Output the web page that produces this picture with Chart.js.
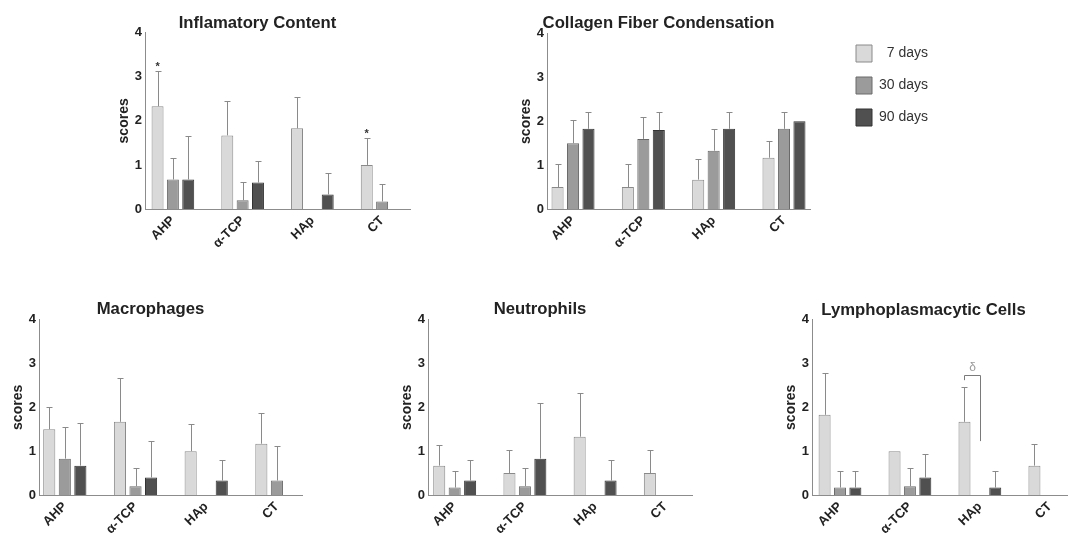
<!DOCTYPE html>
<html>
<head>
<meta charset="utf-8">
<script src="https://cdn.jsdelivr.net/npm/chart.js@4.4.1/dist/chart.umd.min.js"></script>
<style>
  html, body { margin: 0; padding: 0; background: #fff; }
  #page { position: relative; width: 1068px; height: 536px; overflow: hidden; }
  #page canvas { position: absolute; }
</style>
</head>
<body>
<div id="page"></div>
<script>
// Categorías y series
const categories = ['AHP', 'α-TCP', 'HAp', 'CT'];
const seriesNames = ['  7 days', '30 days', '90 days'];
const yTicks = [0, 1, 2, 3, 4];

// Inflamatory Content (media y desviación)
const inflam7 = [2.33, 1.67, 1.83, 1.0];
const inflam7Sd = [0.79, 0.78, 0.72, 0.6];
const inflam30 = [0.67, 0.2, null, 0.17];
const inflam30Sd = [0.48, 0.42, null, 0.39];
const inflam90 = [0.67, 0.6, 0.33, null];
const inflam90Sd = [0.98, 0.5, 0.49, null];

// Collagen Fiber Condensation
const collagen7 = [0.5, 0.5, 0.67, 1.17];
const collagen7Sd = [0.52, 0.52, 0.48, 0.38];
const collagen30 = [1.5, 1.6, 1.33, 1.83];
const collagen30Sd = [0.53, 0.5, 0.49, 0.39];
const collagen90 = [1.83, 1.8, 1.83, 2.0];
const collagen90Sd = [0.39, 0.42, 0.39, 0];

// Macrophages
const macro7 = [1.5, 1.67, 1.0, 1.17];
const macro7Sd = [0.51, 0.99, 0.61, 0.71];
const macro30 = [0.83, 0.2, null, 0.33];
const macro30Sd = [0.73, 0.42, null, 0.79];
const macro90 = [0.67, 0.4, 0.33, null];
const macro90Sd = [0.98, 0.84, 0.48, null];

// Neutrophils
const neutro7 = [0.67, 0.5, 1.33, 0.5];
const neutro7Sd = [0.48, 0.52, 1.0, 0.52];
const neutro30 = [0.17, 0.2, null, null];
const neutro30Sd = [0.38, 0.42, null, null];
const neutro90 = [0.33, 0.83, 0.33, null];
const neutro90Sd = [0.48, 1.28, 0.48, null];

// Lymphoplasmacytic Cells
const lympho7 = [1.83, 1.0, 1.67, 0.67];
const lympho7Sd = [0.96, 0, 0.79, 0.49];
const lympho30 = [0.17, 0.2, null, null];
const lympho30Sd = [0.38, 0.42, null, null];
const lympho90 = [0.17, 0.4, 0.17, null];
const lympho90Sd = [0.38, 0.53, 0.38, null];

// Marcas de significancia
const inflamStars = [{ dataset: 0, index: 0 }, { dataset: 0, index: 3 }];
const lymphoBracket = [{ dataset: 0, index: 2, top: 2.73, leftEnd: 2.62, rightEnd: 1.23, text: 'δ' }];

// Estilos de las series
const fills = ['#d9d9d9', '#9b9b9b', '#505050'];
const borders = ['#8a8a8a', '#6a6a6a', '#333333'];
const FONT = '"Liberation Sans", Arial, sans-serif';

// Paneles: posición en la página y rango del eje x
const panels = [
  { title: 'Inflamatory Content', means: [inflam7, inflam30, inflam90], sds: [inflam7Sd, inflam30Sd, inflam90Sd],
    box: { left: 105, top: 0, width: 316, height: 254 }, titlePad: { top: 15, bottom: 1 }, padRight: 11, xMin: -0.4, xMax: 3.4,
    stars: inflamStars },
  { title: 'Collagen Fiber Condensation', means: [collagen7, collagen30, collagen90], sds: [collagen7Sd, collagen30Sd, collagen90Sd],
    box: { left: 507, top: 0, width: 314, height: 254 }, titlePad: { top: 15, bottom: 2 }, padRight: 11, xMin: -0.37, xMax: 3.37 },
  { title: 'Macrophages', means: [macro7, macro30, macro90], sds: [macro7Sd, macro30Sd, macro90Sd],
    box: { left: -1, top: 290, width: 316, height: 246 }, titlePad: { top: 11, bottom: 2 }, padRight: 13, xMin: -0.365, xMax: 3.355 },
  { title: 'Neutrophils', means: [neutro7, neutro30, neutro90], sds: [neutro7Sd, neutro30Sd, neutro90Sd],
    box: { left: 388, top: 290, width: 316, height: 246 }, titlePad: { top: 11, bottom: 2 }, padRight: 12, xMin: -0.38, xMax: 3.38 },
  { title: 'Lymphoplasmacytic Cells', means: [lympho7, lympho30, lympho90], sds: [lympho7Sd, lympho30Sd, lympho90Sd],
    box: { left: 772, top: 290, width: 314, height: 246 }, titlePad: { top: 12, bottom: 1 }, padRight: 11, xMin: -0.4, xMax: 3.36,
    brackets: lymphoBracket }
];

// Barras de error (solo hacia arriba, con tapa)
const errorBars = {
  id: 'errorBars',
  afterDatasetsDraw(chart) {
    const ctx = chart.ctx;
    const yScale = chart.scales.y;
    chart.data.datasets.forEach((ds, di) => {
      if (!ds.sd) return;
      const meta = chart.getDatasetMeta(di);
      meta.data.forEach((bar, i) => {
        const v = ds.data[i].y;
        const sd = ds.sd[i];
        if (v == null || !sd) return;
        const x = Math.round(bar.x) + 0.5;
        const yBar = yScale.getPixelForValue(v);
        const yTop = Math.round(yScale.getPixelForValue(v + sd)) + 0.5;
        ctx.save();
        ctx.strokeStyle = '#8a8a8a';
        ctx.lineWidth = 1;
        ctx.beginPath();
        ctx.moveTo(x, yBar);
        ctx.lineTo(x, yTop);
        ctx.moveTo(x - 3, yTop);
        ctx.lineTo(x + 3, yTop);
        ctx.stroke();
        ctx.restore();
      });
    });
  }
};

// Asteriscos y corchete δ
const marks = {
  id: 'marks',
  afterDatasetsDraw(chart, args, opts) {
    const ctx = chart.ctx;
    const yScale = chart.scales.y;
    const xScale = chart.scales.x;
    (opts.stars || []).forEach(s => {
      const ds = chart.data.datasets[s.dataset];
      const bar = chart.getDatasetMeta(s.dataset).data[s.index];
      const top = yScale.getPixelForValue(ds.data[s.index].y + (ds.sd[s.index] || 0));
      ctx.save();
      ctx.fillStyle = '#333';
      ctx.font = 'bold 11px ' + FONT;
      ctx.textAlign = 'center';
      ctx.textBaseline = 'alphabetic';
      ctx.fillText('*', bar.x, top - 1);
      ctx.restore();
    });
    (opts.brackets || []).forEach(b => {
      const bar = chart.getDatasetMeta(b.dataset).data[b.index];
      const x1 = Math.round(bar.x) + 0.5;
      const x2 = Math.round(xScale.getPixelForValue(b.index)) + 0.5;
      const yt = Math.round(yScale.getPixelForValue(b.top)) + 0.5;
      ctx.save();
      ctx.strokeStyle = '#7a7a7a';
      ctx.lineWidth = 1;
      ctx.beginPath();
      ctx.moveTo(x1, yScale.getPixelForValue(b.leftEnd));
      ctx.lineTo(x1, yt);
      ctx.lineTo(x2, yt);
      ctx.lineTo(x2, yScale.getPixelForValue(b.rightEnd));
      ctx.stroke();
      ctx.fillStyle = '#9a9a9a';
      ctx.font = '12px ' + FONT;
      ctx.textAlign = 'center';
      ctx.fillText(b.text, (x1 + x2) / 2, yt - 5);
      ctx.restore();
    });
  }
};

function makeCanvas(box) {
  const c = document.createElement('canvas');
  c.width = box.width;
  c.height = box.height;
  c.style.left = box.left + 'px';
  c.style.top = box.top + 'px';
  c.style.width = box.width + 'px';
  c.style.height = box.height + 'px';
  document.getElementById('page').appendChild(c);
  return c;
}

function buildPanel(p) {
  const canvas = makeCanvas(p.box);
  const areaBottom = (p.box.top === 0 ? 209 : 495) - p.box.top;
  const xAxisHeight = p.box.height - areaBottom;
  return new Chart(canvas.getContext('2d'), {
    type: 'bar',
    data: {
      datasets: seriesNames.map((name, s) => ({
        label: name,
        data: categories.map((c, i) => ({ x: i, y: p.means[s][i] })),
        sd: p.sds[s],
        backgroundColor: fills[s],
        borderColor: borders[s],
        borderWidth: 1,
        categoryPercentage: 0.66,
        barPercentage: 0.78
      }))
    },
    options: {
      responsive: false,
      animation: false,
      events: [],
      layout: { padding: { left: 0, right: p.padRight, top: 0, bottom: 0 } },
      plugins: {
        legend: { display: false },
        tooltip: { enabled: false },
        title: {
          display: true,
          text: p.title,
          color: '#222',
          font: { family: FONT, size: 16.7, weight: 'bold', lineHeight: 1 },
          padding: p.titlePad
        },
        marks: { stars: p.stars || [], brackets: p.brackets || [] }
      },
      scales: {
        x: {
          type: 'linear',
          min: p.xMin,
          max: p.xMax,
          offset: false,
          grid: { display: false, drawTicks: false },
          border: { display: true, color: '#8c8c8c', width: 1 },
          afterBuildTicks: (scale) => { scale.ticks = categories.map((c, i) => ({ value: i })); },
          afterFit: (scale) => { scale.height = xAxisHeight; },
          ticks: {
            autoSkip: false,
            minRotation: 45,
            maxRotation: 45,
            padding: 4,
            color: '#222',
            font: { family: FONT, size: 13, weight: 'bold' },
            callback: (v) => categories[v]
          }
        },
        y: {
          min: 0,
          max: 4,
          grid: { display: false, drawTicks: false },
          border: { display: true, color: '#8c8c8c', width: 1 },
          afterBuildTicks: (scale) => { scale.ticks = yTicks.map(v => ({ value: v })); },
          afterFit: (scale) => { scale.width = 40; },
          ticks: {
            padding: 3,
            color: '#222',
            font: { family: FONT, size: 13, weight: 'bold' }
          },
          title: {
            display: true,
            text: 'scores',
            color: '#222',
            font: { family: FONT, size: 14, weight: 'bold' },
            padding: { top: 11, bottom: 0 }
          }
        }
      }
    },
    plugins: [errorBars, marks]
  });
}

// Leyenda separada
function buildLegend() {
  const canvas = makeCanvas({ left: 841, top: 30, width: 300, height: 130 });
  return new Chart(canvas.getContext('2d'), {
    type: 'bar',
    data: {
      labels: [],
      datasets: seriesNames.map((name, s) => ({
        label: name,
        data: [],
        backgroundColor: fills[s],
        borderColor: borders[s],
        borderWidth: 1
      }))
    },
    options: {
      responsive: false,
      animation: false,
      events: [],
      plugins: {
        tooltip: { enabled: false },
        legend: {
          position: 'left',
          align: 'start',
          labels: {
            boxWidth: 16,
            boxHeight: 17,
            padding: 15,
            color: '#333',
            font: { family: FONT, size: 14 }
          }
        }
      },
      scales: { x: { display: false }, y: { display: false } }
    }
  });
}

try {
  panels.forEach(buildPanel);
  buildLegend();
} catch (error) {
  console.error('Error al construir los gráficos:', error);
}
</script>
</body>
</html>
